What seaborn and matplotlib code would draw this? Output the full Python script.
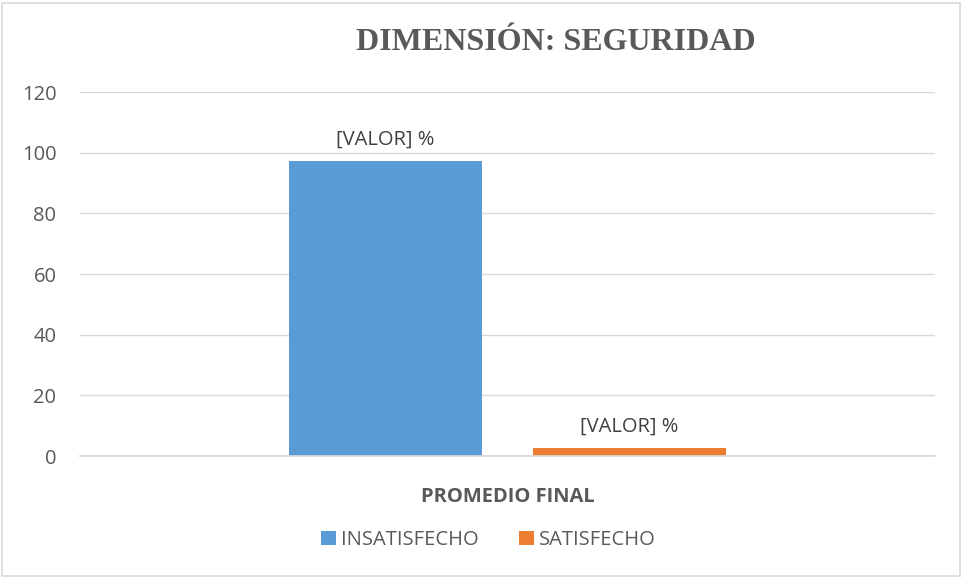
import matplotlib
matplotlib.use("Agg")
import matplotlib.pyplot as plt
import seaborn as sns
import pandas as pd
from matplotlib.patches import Rectangle, Patch

categories = ["PROMEDIO FINAL"]
series = ["INSATISFECHO", "SATISFECHO"]
values = [97.4, 2.6]
bar_labels = ["[VALOR] %", "[VALOR] %"]
yticks = [0, 20, 40, 60, 80, 100, 120]
colors = ["#5B9BD5", "#ED7D31"]

df = pd.DataFrame({"cat": categories * len(series), "serie": series, "valor": values})

sns.set_theme(style="white")
plt.rcParams["font.family"] = ["Open Sans", "DejaVu Sans"]

fig = plt.figure(figsize=(9.63, 5.78), dpi=100)
ax = fig.add_axes([80/963, 1-456/578, 855/963, 364/578])

sns.barplot(data=df, x="cat", y="valor", hue="serie", palette=colors,
            width=0.571, gap=0.213, ax=ax, legend=False, saturation=1,
            linewidth=0)

ax.set_ylim(0, 120)
ax.set_xlim(-0.5, 0.5)
ax.set_yticks(yticks)
ax.set_yticklabels([str(t) for t in yticks], color="#595959", fontsize=14.5)
ax.yaxis.grid(True, color="#d9d9d9", linewidth=1)
ax.set_axisbelow(True)
for s in ["left", "right", "top"]:
    ax.spines[s].set_visible(False)
ax.spines["bottom"].set_color("#d9d9d9")
ax.tick_params(axis="both", length=0)
ax.tick_params(axis="y", pad=17)
ax.set_xticks([0])
ax.set_xticklabels(["PROMEDIO FINAL"], fontsize=14.5, fontweight="bold", color="#595959")
ax.tick_params(axis="x", pad=22)
ax.set_xlabel("")
ax.set_ylabel("")

for cont, lab in zip(ax.containers, bar_labels):
    ax.bar_label(cont, labels=[lab], padding=8, fontsize=14.5, color="#404040")

handles = [Patch(facecolor=c, edgecolor="none") for c in colors]
fig.legend(handles, series, loc="center", bbox_to_anchor=(488/963, 1-540/578),
           ncol=2, frameon=False, fontsize=14.5, handlelength=0.75, handleheight=0.75,
           handletextpad=0.25, columnspacing=2.0, labelcolor="#595959")

fig.text(556/963, 1-43/578, "DIMENSIÓN: SEGURIDAD", ha="center", va="center",
         fontsize=23, fontweight="bold", color="#595959",
         family=["Liberation Serif", "DejaVu Serif"])

fig.patches.append(Rectangle((2/963, 2/578), 958/963, 573/578, transform=fig.transFigure,
                             fill=False, edgecolor="#d9d9d9", linewidth=1.2))

fig.savefig("out.png", dpi=100)
